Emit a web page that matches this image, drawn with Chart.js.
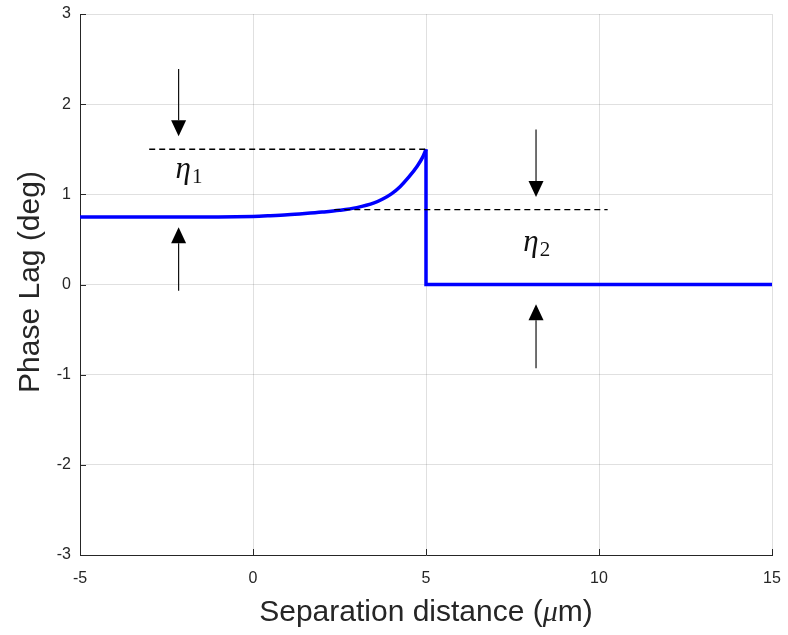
<!DOCTYPE html>
<html>
<head>
<meta charset="utf-8">
<script src="https://cdn.jsdelivr.net/npm/chart.js@4.4.1/dist/chart.umd.min.js"></script>
<style>
html,body{margin:0;padding:0;background:#fff;}
#wrap{width:788px;height:635px;}
</style>
</head>
<body>
<div id="wrap"><canvas id="c" width="788" height="635"></canvas></div>
<script>
// Phase-lag curve: rising part up to the peak at x = 5
const riseX = [-5, -4, -3, -2, -1, 0, 0.5, 1, 1.5, 2, 2.5, 3, 3.5, 3.75, 4, 4.25, 4.5, 4.75, 4.9, 5];
const riseY = [0.75, 0.75, 0.75, 0.75, 0.75, 0.755, 0.763, 0.773, 0.787, 0.803, 0.823, 0.853, 0.905, 0.948, 1.005, 1.085, 1.19, 1.315, 1.41, 1.5];
// step down and flat part
const stepX = [5, 5, 10, 15];
const stepY = [1.5, 0, 0, 0];

// dashed reference lines
const dash1X = [-3, 5];
const dash1Y = [1.5, 1.5];
const dash2X = [2.35, 10.25];
const dash2Y = [0.83, 0.83];

// arrows: shaft start -> tip
const arrowX = [-2.15, -2.15, 8.18, 8.18];
const arrowFromY = [2.39, -0.07, 1.72, -0.93];
const arrowToY = [1.645, 0.636, 0.97, -0.22];

// labels
const etaLabels = ['1', '2'];
const etaX = [-1.85, 8.2];
const etaY = [1.18, 0.37];

const xTicks = [-5, 0, 5, 10, 15];
const yTicks = [-3, -2, -1, 0, 1, 2, 3];

const xTitleA = 'Separation distance (';
const xTitleMu = 'μ';
const xTitleB = 'm)';
const yTitle = 'Phase Lag (deg)';

const toPts = (xs, ys) => xs.map((x, i) => ({x: x, y: ys[i]}));
const TXT = '#262626';

const overlay = {
  id: 'overlay',
  afterDraw(chart) {
    const ctx = chart.ctx;
    const xs = chart.scales.x, ys = chart.scales.y;
    const ca = chart.chartArea;
    ctx.save();
    // inward ticks
    ctx.strokeStyle = TXT;
    ctx.lineWidth = 1;
    ctx.beginPath();
    yTicks.forEach(v => {
      const py = Math.round(ys.getPixelForValue(v)) + 0.5;
      ctx.moveTo(ca.left, py); ctx.lineTo(ca.left + 6, py);
    });
    xTicks.forEach(v => {
      const px = Math.round(xs.getPixelForValue(v)) + 0.5;
      ctx.moveTo(px, ca.bottom); ctx.lineTo(px, ca.bottom - 6);
    });
    ctx.stroke();

    // arrows
    ctx.strokeStyle = '#111';
    ctx.fillStyle = '#000';
    for (let i = 0; i < arrowX.length; i++) {
      const px = xs.getPixelForValue(arrowX[i]);
      const y0 = ys.getPixelForValue(arrowFromY[i]);
      const y1 = ys.getPixelForValue(arrowToY[i]);
      const dir = y1 > y0 ? 1 : -1;
      const headLen = 16, headW = 7.5;
      ctx.lineWidth = 1.2;
      ctx.beginPath();
      ctx.moveTo(px, y0);
      ctx.lineTo(px, y1 - dir * headLen);
      ctx.stroke();
      ctx.beginPath();
      ctx.moveTo(px, y1);
      ctx.lineTo(px - headW, y1 - dir * headLen);
      ctx.lineTo(px + headW, y1 - dir * headLen);
      ctx.closePath();
      ctx.fill();
    }

    // eta labels
    ctx.fillStyle = '#111';
    ctx.textBaseline = 'alphabetic';
    const fEta = 'italic 31px "Liberation Serif", "DejaVu Serif", serif';
    const fSub = '21px "Liberation Serif", "DejaVu Serif", serif';
    for (let i = 0; i < etaLabels.length; i++) {
      const px = xs.getPixelForValue(etaX[i]);
      const py = ys.getPixelForValue(etaY[i]);
      ctx.font = fEta;
      const w1 = ctx.measureText('η').width;
      ctx.font = fSub;
      const w2 = ctx.measureText(etaLabels[i]).width;
      const left = px - (w1 + w2 + 1) / 2;
      ctx.font = fEta;
      ctx.textAlign = 'left';
      ctx.fillText('η', left, py);
      ctx.font = fSub;
      ctx.fillText(etaLabels[i], left + w1 + 1, py + 5);
    }

    // axis titles
    ctx.fillStyle = TXT;
    const fA = '30px "Liberation Sans", Arial, sans-serif';
    const fMu = 'italic 30px "Liberation Serif", serif';
    ctx.font = fA; const wA = ctx.measureText(xTitleA).width; const wB = ctx.measureText(xTitleB).width;
    ctx.font = fMu; const wMu = ctx.measureText(xTitleMu).width;
    const cx = (ca.left + ca.right) / 2;
    let sx = cx - (wA + wMu + wB) / 2;
    ctx.textAlign = 'left';
    ctx.font = fA; ctx.fillText(xTitleA, sx, 621);
    ctx.font = fMu; ctx.fillText(xTitleMu, sx + wA, 621);
    ctx.font = fA; ctx.fillText(xTitleB, sx + wA + wMu, 621);

    ctx.translate(39, 282);
    ctx.rotate(-Math.PI / 2);
    ctx.textAlign = 'center';
    ctx.font = fA;
    ctx.fillText(yTitle, 0, 0);
    ctx.restore();
  }
};

new Chart(document.getElementById('c'), {
  type: 'scatter',
  data: {
    datasets: [
      {
        data: toPts(riseX, riseY), showLine: true, borderColor: '#0000ff', borderWidth: 3.5,
        pointRadius: 0, cubicInterpolationMode: 'monotone', order: 2, borderJoinStyle: 'round'
      },
      {
        data: toPts(stepX, stepY), showLine: true, borderColor: '#0000ff', borderWidth: 3.5,
        pointRadius: 0, tension: 0, order: 2, borderJoinStyle: 'miter'
      },
      {
        data: toPts(dash1X, dash1Y), showLine: true, borderColor: '#000', borderWidth: 1.3,
        borderDash: [6, 4], pointRadius: 0, order: 1
      },
      {
        data: toPts(dash2X, dash2Y), showLine: true, borderColor: '#000', borderWidth: 1.3,
        borderDash: [6, 4], pointRadius: 0, order: 1
      }
    ]
  },
  options: {
    responsive: false,
    animation: false,
    devicePixelRatio: 1,
    layout: {padding: {top: 14, right: 16, left: 0, bottom: 0}},
    plugins: {legend: {display: false}, tooltip: {enabled: false}},
    scales: {
      x: {
        type: 'linear', min: -5, max: 15,
        afterFit: s => { s.height = 80; s.paddingLeft = 0; s.paddingRight = 0; },
        afterBuildTicks: s => { s.ticks = xTicks.map(v => ({value: v})); },
        ticks: {color: TXT, font: {family: '"Liberation Sans", Arial, sans-serif', size: 16}, padding: 14},
        grid: {color: 'rgba(0,0,0,0.12)', drawTicks: false},
        border: {color: TXT, width: 1}
      },
      y: {
        type: 'linear', min: -3, max: 3,
        afterFit: s => { s.width = 80; s.paddingTop = 0; s.paddingBottom = 0; },
        afterBuildTicks: s => { s.ticks = yTicks.map(v => ({value: v})); },
        ticks: {color: TXT, font: {family: '"Liberation Sans", Arial, sans-serif', size: 16}, padding: 9},
        grid: {color: 'rgba(0,0,0,0.12)', drawTicks: false},
        border: {color: TXT, width: 1}
      }
    }
  },
  plugins: [overlay]
});
</script>
</body>
</html>
